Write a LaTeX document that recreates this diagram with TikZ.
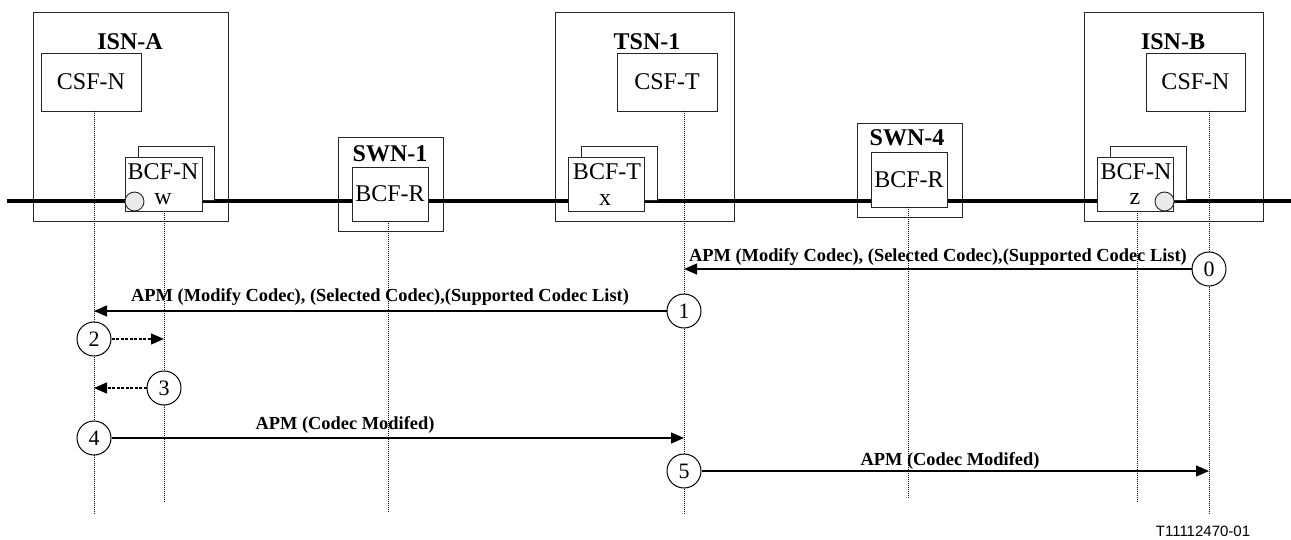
\documentclass[tikz,border=0pt]{standalone}
\usepackage{fontspec}
\setmainfont{Liberation Serif}
\newfontfamily\reffont{Liberation Sans}
\usetikzlibrary{arrows.meta}
\begin{document}
\begin{tikzpicture}[x=1pt,y=-1pt,
  boxline/.style={draw=black!85,line width=0.9pt},
  outerbox/.style={boxline,inner sep=0pt,fill=white},
  fnbox/.style={boxline,fill=white,inner sep=0pt,font=\fontsize{24}{28}\selectfont},
  shadowbox/.style={boxline,fill=white,inner sep=0pt,minimum width=76pt,minimum height=54pt},
  title/.style={font=\fontsize{24}{28}\selectfont\bfseries,inner sep=0pt},
  fntext/.style={font=\fontsize{24}{28}\selectfont,inner sep=0pt},
  port/.style={circle,draw=black!85,line width=0.9pt,fill=black!8,minimum size=19pt,inner sep=0pt},
  bearer/.style={line width=4.5pt},
  life/.style={line width=0.8pt,dash pattern=on 1pt off 1pt},
  num/.style={circle,draw,line width=1pt,minimum width=34pt,inner sep=0pt,fill=white,font=\fontsize{22}{24}\selectfont},
  msg/.style={line width=1.2pt,-{Triangle[length=13pt,width=11pt]}},
  dmsg/.style={msg,dash pattern=on 3pt off 1.5pt},
  mlabel/.style={font=\fontsize{18.4}{20}\selectfont\bfseries,inner sep=0pt}
]
\useasboundingbox (0,0) rectangle (1291,540);

% outer boxes
\node[outerbox,minimum width=195pt,minimum height=209pt] (isnA) at (130.5,116.5) {};
\node[outerbox,minimum width=179pt,minimum height=209pt] (tsn) at (644.5,116.5) {};
\node[outerbox,minimum width=179pt,minimum height=209pt] (isnB) at (1173.5,116.5) {};
\node[outerbox,minimum width=105pt,minimum height=94pt] (swn1) at (390.5,184) {};
\node[outerbox,minimum width=105pt,minimum height=94pt] (swn4) at (909.5,170) {};

\node[title] (isnAt) at (130,42) {ISN-A};
\node[title] (tsnt) at (647,42) {TSN-1};
\node[title] (isnBt) at (1173,42) {ISN-B};
\node[title] (swn1t) at (390,154) {SWN-1};
\node[title] (swn4t) at (907,138) {SWN-4};

% CSF boxes
\node[fnbox,minimum width=100pt,minimum height=58pt] (csfA) at (91,82) {CSF-N};
\node[fnbox,minimum width=100pt,minimum height=58pt] (csfT) at (667,82) {CSF-T};
\node[fnbox,minimum width=99pt,minimum height=58pt] (csfB) at (1195.5,82) {CSF-N};

% bearer line
\coordinate (bl) at (7,201);
\coordinate (br) at (1291,201);
\draw[bearer] (bl) -- (br);

% BCF shadow boxes
\node[shadowbox] (bcfAb) at (176,173) {};
\node[shadowbox] (bcfTb) at (619.5,173) {};
\node[shadowbox] (bcfBb) at (1148,173) {};
% BCF front boxes
\node[shadowbox,minimum width=77pt] (bcfA) at (163.5,184) {};
\node[shadowbox] (bcfT) at (606,184) {};
\node[shadowbox] (bcfB) at (1135,184) {};
\node[fntext] (bcfAt) at (163,172) {BCF-N};
\node[fntext] (bcfAw) at (163,199) {w};
\node[fntext] (bcfTt) at (607,172) {BCF-T};
\node[fntext] (bcfTx) at (605,200) {x};
\node[fntext] (bcfBt) at (1136,172) {BCF-N};
\node[fntext] (bcfBz) at (1135,199) {z};
\node[port] (portA) at (134.5,201.5) {};
\node[port] (portB) at (1164.5,201.5) {};

% BCF-R boxes
\node[fnbox,minimum width=76pt,minimum height=54pt] (bcfR1) at (390,194) {BCF-R};
\node[fnbox,minimum width=76pt,minimum height=55pt] (bcfR4) at (909,179.5) {BCF-R};

% lifelines
\coordinate (LA) at (94,515);
\coordinate (LW) at (164,502);
\coordinate (L1) at (388,513);
\coordinate (LT) at (684,515);
\coordinate (L4) at (908,498);
\coordinate (LZ) at (1137,502);
\coordinate (LB) at (1209,515);
\draw[life] (csfA.south -| LA) -- (LA);
\draw[life] (bcfA.south -| LW) -- (LW);
\draw[life] (bcfR1.south -| L1) -- (L1);
\draw[life] (csfT.south -| LT) -- (LT);
\draw[life] (bcfR4.south -| L4) -- (L4);
\draw[life] (bcfB.south -| LZ) -- (LZ);
\draw[life] (csfB.south -| LB) -- (LB);

% messages
\node[num] (n0) at (1209,269) {0};
\draw[msg] (n0) -- (n0 -| LT);
\node[mlabel,anchor=east] (t0) at (1187,257) {APM (Modify Codec), (Selected Codec),(Supported Codec List)};

\node[num] (n1) at (684,311) {1};
\draw[msg] (n1) -- (n1 -| LA);
\node[mlabel,anchor=west] (t1) at (131,297) {APM (Modify Codec), (Selected Codec),(Supported Codec List)};

\node[num] (n2) at (94,339) {2};
\draw[dmsg] (n2) -- (n2 -| LW);

\node[num] (n3) at (164,388) {3};
\draw[dmsg] (n3) -- (n3 -| LA);

\node[num] (n4) at (94,438) {4};
\draw[msg] (n4) -- (n4 -| LT);
\node[mlabel] (t4) at (345,425) {APM (Codec Modifed)};

\node[num] (n5) at (684,471) {5};
\draw[msg] (n5) -- (n5 -| LB);
\node[mlabel] (t5) at (950,461) {APM (Codec Modifed)};

\node[font=\reffont\fontsize{15}{17}\selectfont,inner sep=0pt] (ref) at (1203,531) {T11112470-01};
\end{tikzpicture}
\end{document}
